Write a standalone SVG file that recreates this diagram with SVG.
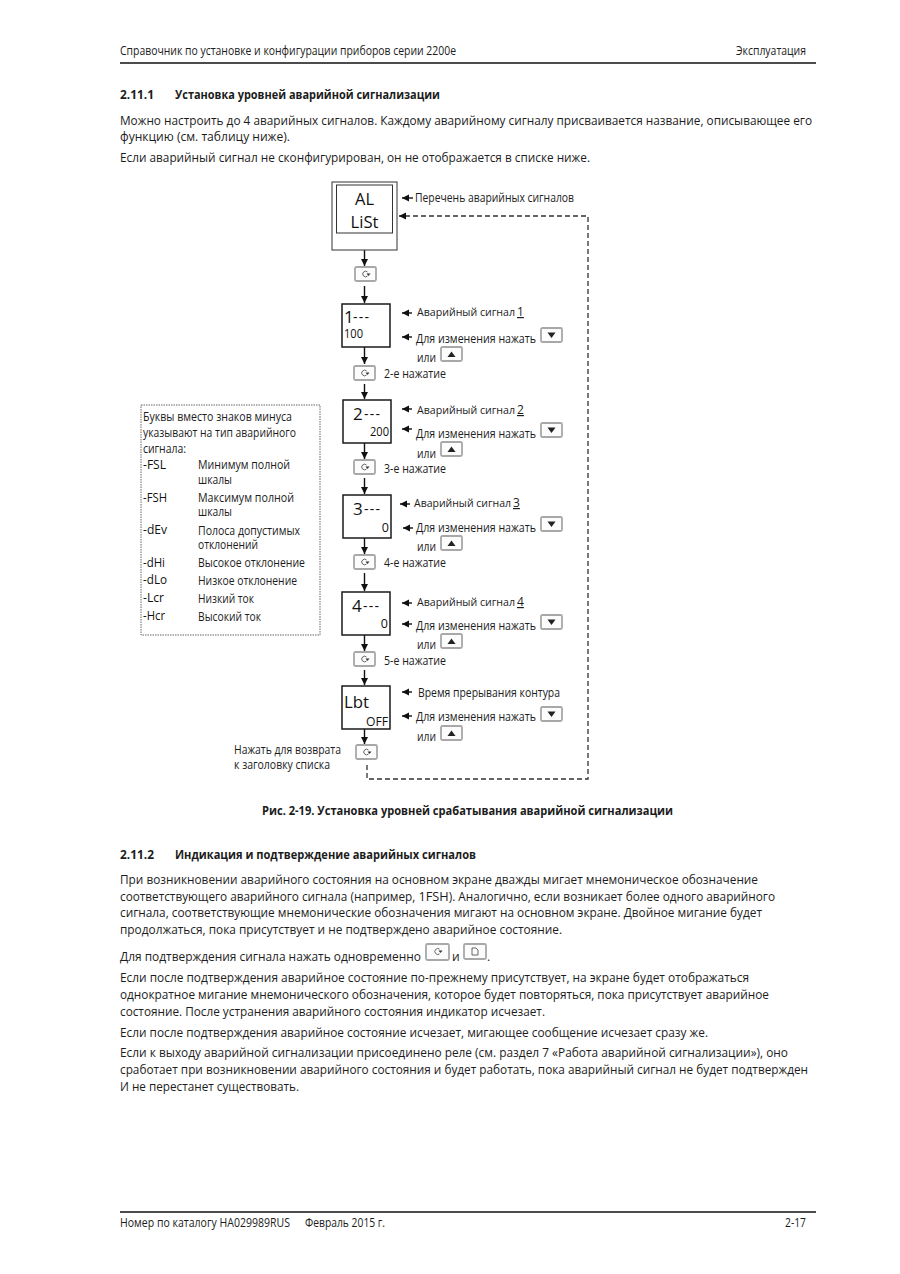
<svg xmlns="http://www.w3.org/2000/svg" xmlns:xlink="http://www.w3.org/1999/xlink" width="900" height="1274" viewBox="0 0 900 1274">
<style>
text{font-family:"Open Sans","Noto Sans","DejaVu Sans",sans-serif;font-size:12px;fill:#1c1c1c}
.b{font-weight:700}
.big{font-size:17px;fill:#111}
.dash{font-size:14px;letter-spacing:1.2px;fill:#111}
.mid{font-size:12.5px;fill:#111}
.l{font-size:11px}
.box{fill:#fff;stroke:#1a1a1a;stroke-width:1.5}
.thin{fill:#fff;stroke:#333;stroke-width:1}
.c{fill:none;stroke:#111;stroke-width:1.4}
.d{fill:none;stroke:#333;stroke-width:1.3;stroke-dasharray:5 3}
.k{fill:#fcfcfc;stroke:#a8a8a8;stroke-width:1.8}
.g{fill:none;stroke:#555;stroke-width:.9}
.u{text-decoration:underline}
</style>
<defs>
<marker id="a" markerWidth="8" markerHeight="8" refX="7" refY="3.500" orient="auto" markerUnits="userSpaceOnUse"><path d="M0 0L7 3.500L0 7Z" fill="#111"/></marker>
<g id="scroll"><rect class="k" x="0" y="0" width="21" height="14" rx="1.5"/><path class="g" d="M12.500 5A2.800 2.800 0 1 0 12.500 9"/><path d="M11.500 6.500L15.500 6.500L13.500 9Z" fill="#333"/></g>
<g id="down"><rect class="k" x="0" y="0" width="21" height="14" rx="1.5"/><path d="M6.500 4.500H14.500L10.500 10Z" fill="#222"/></g>
<g id="up"><rect class="k" x="0" y="0" width="21" height="14" rx="1.5"/><path d="M6.500 10H14.500L10.500 4.500Z" fill="#222"/></g>
</defs>
<rect width="900" height="1274" fill="#fff"/>

<g id="page-header">
<text x="120" y="55" textLength="336" lengthAdjust="spacingAndGlyphs">Справочник по установке и конфигурации приборов серии 2200е</text>
<text x="736" y="55" textLength="70" lengthAdjust="spacingAndGlyphs">Эксплуатация</text>
<path d="M120 63H816" stroke="#111" stroke-width="1.5"/>
</g>

<g id="section-2-11-1">
<text class="b" x="120" y="99" textLength="34" lengthAdjust="spacingAndGlyphs">2.11.1</text>
<text class="b" x="175" y="99" textLength="265" lengthAdjust="spacingAndGlyphs">Установка уровней аварийной сигнализации</text>
<text x="120" y="125" textLength="692" lengthAdjust="spacingAndGlyphs">Можно настроить до 4 аварийных сигналов. Каждому аварийному сигналу присваивается название, описывающее его</text>
<text x="120" y="141" textLength="170" lengthAdjust="spacingAndGlyphs">функцию (см. таблицу ниже).</text>
<text x="120" y="162" textLength="470" lengthAdjust="spacingAndGlyphs">Если аварийный сигнал не сконфигурирован, он не отображается в списке ниже.</text>
</g>

<g id="connectors">
<path class="c" marker-end="url(#a)" d="M364.500 250V266"/>
<path class="c" marker-end="url(#a)" d="M364.500 286V303"/>
<path class="c" marker-end="url(#a)" d="M364.500 347V364"/>
<path class="c" marker-end="url(#a)" d="M364.500 384V399"/>
<path class="c" marker-end="url(#a)" d="M364.500 443V459"/>
<path class="c" marker-end="url(#a)" d="M364.500 478V494"/>
<path class="c" marker-end="url(#a)" d="M364.500 538V554"/>
<path class="c" marker-end="url(#a)" d="M364.500 573V591"/>
<path class="c" marker-end="url(#a)" d="M364.500 635V651"/>
<path class="c" marker-end="url(#a)" d="M364.500 670V685"/>
<path class="c" marker-end="url(#a)" d="M364.500 729V744"/>
<path class="c" marker-end="url(#a)" d="M413 198H402"/>
<path class="c" marker-end="url(#a)" d="M412 313H402"/>
<path class="c" marker-end="url(#a)" d="M412 337H402"/>
<path class="c" marker-end="url(#a)" d="M412 409H402"/>
<path class="c" marker-end="url(#a)" d="M412 429H402"/>
<path class="c" marker-end="url(#a)" d="M410 504H400"/>
<path class="c" marker-end="url(#a)" d="M413 528H403"/>
<path class="c" marker-end="url(#a)" d="M412 603H402"/>
<path class="c" marker-end="url(#a)" d="M412 624H402"/>
<path class="c" marker-end="url(#a)" d="M412 692H402"/>
<path class="c" marker-end="url(#a)" d="M412 716H402"/>
<path class="d" marker-end="url(#a)" d="M367 765V779H588V216H399"/>
</g>

<g id="node-al-list">
<rect class="thin" x="332" y="182" width="65" height="68"/>
<rect class="thin" x="336.500" y="185" width="56" height="48"/>
<text class="big" x="364.500" y="205" text-anchor="middle" textLength="19" lengthAdjust="spacingAndGlyphs">AL</text>
<text class="big" x="364.500" y="228" text-anchor="middle" textLength="28" lengthAdjust="spacingAndGlyphs">LiSt</text>
<text x="415" y="202" textLength="159" lengthAdjust="spacingAndGlyphs">Перечень аварийных сигналов</text>
</g>
<use id="key-0" xlink:href="#scroll" href="#scroll" x="355" y="267"/>

<g id="node-alarm-1">
<rect class="box" x="342" y="304" width="48" height="43"/>
<text class="big" x="344" y="323">1</text><text class="dash" x="353" y="322">---</text>
<text class="mid" x="344" y="338" textLength="19" lengthAdjust="spacingAndGlyphs">100</text>
<text class="l" x="417" y="316" textLength="98" lengthAdjust="spacingAndGlyphs">Аварийный сигнал</text><text class="u" x="517" y="316">1</text>
<text x="416" y="343" textLength="120" lengthAdjust="spacingAndGlyphs">Для изменения нажать</text>
<use xlink:href="#down" href="#down" x="541" y="328"/>
<text x="417" y="362" textLength="19" lengthAdjust="spacingAndGlyphs">или</text>
<use xlink:href="#up" href="#up" x="441" y="347"/>
</g>
<g id="key-1"><use xlink:href="#scroll" href="#scroll" x="354" y="366"/><text x="384" y="378" textLength="62" lengthAdjust="spacingAndGlyphs">2-е нажатие</text></g>

<g id="node-alarm-2">
<rect class="box" x="343" y="400" width="48" height="43"/>
<text class="big" x="353" y="420">2</text><text class="dash" x="364" y="419">---</text>
<text class="mid" x="389" y="436" text-anchor="end" textLength="19" lengthAdjust="spacingAndGlyphs">200</text>
<text class="l" x="417" y="414" textLength="98" lengthAdjust="spacingAndGlyphs">Аварийный сигнал</text><text class="u" x="517" y="414">2</text>
<text x="416" y="438" textLength="120" lengthAdjust="spacingAndGlyphs">Для изменения нажать</text>
<use xlink:href="#down" href="#down" x="541" y="423"/>
<text x="417" y="458" textLength="19" lengthAdjust="spacingAndGlyphs">или</text>
<use xlink:href="#up" href="#up" x="441" y="442"/>
</g>
<g id="key-2"><use xlink:href="#scroll" href="#scroll" x="354" y="460"/><text x="384" y="473" textLength="62" lengthAdjust="spacingAndGlyphs">3-е нажатие</text></g>

<g id="node-alarm-3">
<rect class="box" x="343" y="495" width="48" height="43"/>
<text class="big" x="353" y="515">3</text><text class="dash" x="364" y="514">---</text>
<text class="mid" x="389" y="532" text-anchor="end">0</text>
<text class="l" x="414" y="507" textLength="97" lengthAdjust="spacingAndGlyphs">Аварийный сигнал</text><text class="u" x="513" y="507">3</text>
<text x="416" y="532" textLength="120" lengthAdjust="spacingAndGlyphs">Для изменения нажать</text>
<use xlink:href="#down" href="#down" x="541" y="517"/>
<text x="417" y="551" textLength="19" lengthAdjust="spacingAndGlyphs">или</text>
<use xlink:href="#up" href="#up" x="441" y="536"/>
</g>
<g id="key-3"><use xlink:href="#scroll" href="#scroll" x="354" y="555"/><text x="384" y="567" textLength="62" lengthAdjust="spacingAndGlyphs">4-е нажатие</text></g>

<g id="node-alarm-4">
<rect class="box" x="342" y="592" width="48" height="43"/>
<text class="big" x="352" y="612">4</text><text class="dash" x="363" y="611">---</text>
<text class="mid" x="388" y="628" text-anchor="end">0</text>
<text class="l" x="417" y="606" textLength="98" lengthAdjust="spacingAndGlyphs">Аварийный сигнал</text><text class="u" x="517" y="606">4</text>
<text x="416" y="630" textLength="120" lengthAdjust="spacingAndGlyphs">Для изменения нажать</text>
<use xlink:href="#down" href="#down" x="541" y="615"/>
<text x="417" y="649" textLength="19" lengthAdjust="spacingAndGlyphs">или</text>
<use xlink:href="#up" href="#up" x="441" y="634"/>
</g>
<g id="key-4"><use xlink:href="#scroll" href="#scroll" x="354" y="652"/><text x="384" y="665" textLength="62" lengthAdjust="spacingAndGlyphs">5-е нажатие</text></g>

<g id="node-lbt">
<rect class="box" x="342" y="686" width="48" height="43"/>
<text class="big" x="344" y="708" textLength="25" lengthAdjust="spacingAndGlyphs">Lbt</text>
<text class="mid" x="388" y="726" text-anchor="end" textLength="22" lengthAdjust="spacingAndGlyphs">OFF</text>
<text x="418" y="697" textLength="142" lengthAdjust="spacingAndGlyphs">Время прерывания контура</text>
<text x="416" y="721" textLength="120" lengthAdjust="spacingAndGlyphs">Для изменения нажать</text>
<use xlink:href="#down" href="#down" x="541" y="707"/>
<text x="417" y="741" textLength="19" lengthAdjust="spacingAndGlyphs">или</text>
<use xlink:href="#up" href="#up" x="441" y="726"/>
</g>
<g id="key-5">
<use xlink:href="#scroll" href="#scroll" x="356" y="745"/>
<text x="234" y="754" textLength="107" lengthAdjust="spacingAndGlyphs">Нажать для возврата</text>
<text x="234" y="769" textLength="96" lengthAdjust="spacingAndGlyphs">к заголовку списка</text>
</g>

<g id="node-legend">
<rect x="141" y="405" width="179" height="230" fill="none" stroke="#666" stroke-width="1" stroke-dasharray="1.500 1"/>
<text x="143" y="421" textLength="149" lengthAdjust="spacingAndGlyphs">Буквы вместо знаков минуса</text>
<text x="143" y="437" textLength="153" lengthAdjust="spacingAndGlyphs">указывают на тип аварийного</text>
<text x="143" y="453" textLength="43" lengthAdjust="spacingAndGlyphs">сигнала:</text>
<text class="mid" x="143" y="469" textLength="23" lengthAdjust="spacingAndGlyphs">-FSL</text><text x="198" y="469" textLength="92" lengthAdjust="spacingAndGlyphs">Минимум полной</text>
<text x="198" y="484" textLength="34" lengthAdjust="spacingAndGlyphs">шкалы</text>
<text class="mid" x="143" y="502" textLength="24" lengthAdjust="spacingAndGlyphs">-FSH</text><text x="198" y="502" textLength="96" lengthAdjust="spacingAndGlyphs">Максимум полной</text>
<text x="198" y="516" textLength="34" lengthAdjust="spacingAndGlyphs">шкалы</text>
<text class="mid" x="143" y="534" textLength="24" lengthAdjust="spacingAndGlyphs">-dEv</text><text x="198" y="535" textLength="102" lengthAdjust="spacingAndGlyphs">Полоса допустимых</text>
<text x="198" y="549" textLength="60" lengthAdjust="spacingAndGlyphs">отклонений</text>
<text class="mid" x="143" y="567" textLength="22" lengthAdjust="spacingAndGlyphs">-dHi</text><text x="198" y="567" textLength="107" lengthAdjust="spacingAndGlyphs">Высокое отклонение</text>
<text class="mid" x="143" y="584" textLength="24" lengthAdjust="spacingAndGlyphs">-dLo</text><text x="198" y="585" textLength="99" lengthAdjust="spacingAndGlyphs">Низкое отклонение</text>
<text class="mid" x="143" y="602" textLength="21" lengthAdjust="spacingAndGlyphs">-Lcr</text><text x="198" y="603" textLength="56" lengthAdjust="spacingAndGlyphs">Низкий ток</text>
<text class="mid" x="143" y="620" textLength="22" lengthAdjust="spacingAndGlyphs">-Hcr</text><text x="198" y="621" textLength="63" lengthAdjust="spacingAndGlyphs">Высокий ток</text>
</g>

<text class="b" x="262" y="815" textLength="411" lengthAdjust="spacingAndGlyphs">Рис. 2-19. Установка уровней срабатывания аварийной сигнализации</text>

<g id="section-2-11-2">
<text class="b" x="120" y="859" textLength="34" lengthAdjust="spacingAndGlyphs">2.11.2</text>
<text class="b" x="175" y="859" textLength="301" lengthAdjust="spacingAndGlyphs">Индикация и подтверждение аварийных сигналов</text>
<text x="120" y="884" textLength="638" lengthAdjust="spacingAndGlyphs">При возникновении аварийного состояния на основном экране дважды мигает мнемоническое обозначение</text>
<text x="120" y="901" textLength="655" lengthAdjust="spacingAndGlyphs">соответствующего аварийного сигнала (например, <tspan font-size="13">1FSH</tspan>). Аналогично, если возникает более одного аварийного</text>
<text x="120" y="917" textLength="642" lengthAdjust="spacingAndGlyphs">сигнала, соответствующие мнемонические обозначения мигают на основном экране. Двойное мигание будет</text>
<text x="120" y="934" textLength="442" lengthAdjust="spacingAndGlyphs">продолжаться, пока присутствует и не подтверждено аварийное состояние.</text>
<text x="120" y="961" textLength="301" lengthAdjust="spacingAndGlyphs">Для подтверждения сигнала нажать одновременно</text>
<g id="scroll-key-inline"><rect class="k" x="426" y="944" width="23" height="16" rx="1.500"/><path class="g" d="M439.500 949A3 3 0 1 0 439.500 954"/><path d="M438.500 950.500L442.500 950.500L440.500 953Z" fill="#333"/></g>
<text x="452" y="961">и</text>
<g id="page-key"><rect class="k" x="464" y="944" width="22" height="15" rx="1.500"/><path class="g" d="M472 948H476L478 950V955H472Z"/></g>
<text x="487" y="961">.</text>
<text x="120" y="982" textLength="629" lengthAdjust="spacingAndGlyphs">Если после подтверждения аварийное состояние по-прежнему присутствует, на экране будет отображаться</text>
<text x="120" y="999" textLength="649" lengthAdjust="spacingAndGlyphs">однократное мигание мнемонического обозначения, которое будет повторяться, пока присутствует аварийное</text>
<text x="120" y="1016" textLength="425" lengthAdjust="spacingAndGlyphs">состояние. После устранения аварийного состояния индикатор исчезает.</text>
<text x="120" y="1037" textLength="588" lengthAdjust="spacingAndGlyphs">Если после подтверждения аварийное состояние исчезает, мигающее сообщение исчезает сразу же.</text>
<text x="120" y="1057" textLength="668" lengthAdjust="spacingAndGlyphs">Если к выходу аварийной сигнализации присоединено реле (см. раздел 7 «Работа аварийной сигнализации»), оно</text>
<text x="120" y="1074" textLength="688" lengthAdjust="spacingAndGlyphs">сработает при возникновении аварийного состояния и будет работать, пока аварийный сигнал не будет подтвержден</text>
<text x="120" y="1091" textLength="179" lengthAdjust="spacingAndGlyphs">И не перестанет существовать.</text>
</g>

<g id="page-footer">
<path d="M120 1212H816" stroke="#111" stroke-width="1.5"/>
<text x="120" y="1227" textLength="170" lengthAdjust="spacingAndGlyphs">Номер по каталогу HA029989RUS</text>
<text x="305" y="1227" textLength="80" lengthAdjust="spacingAndGlyphs">Февраль 2015 г.</text>
<text x="785" y="1227" textLength="21" lengthAdjust="spacingAndGlyphs">2-17</text>
</g>
</svg>
